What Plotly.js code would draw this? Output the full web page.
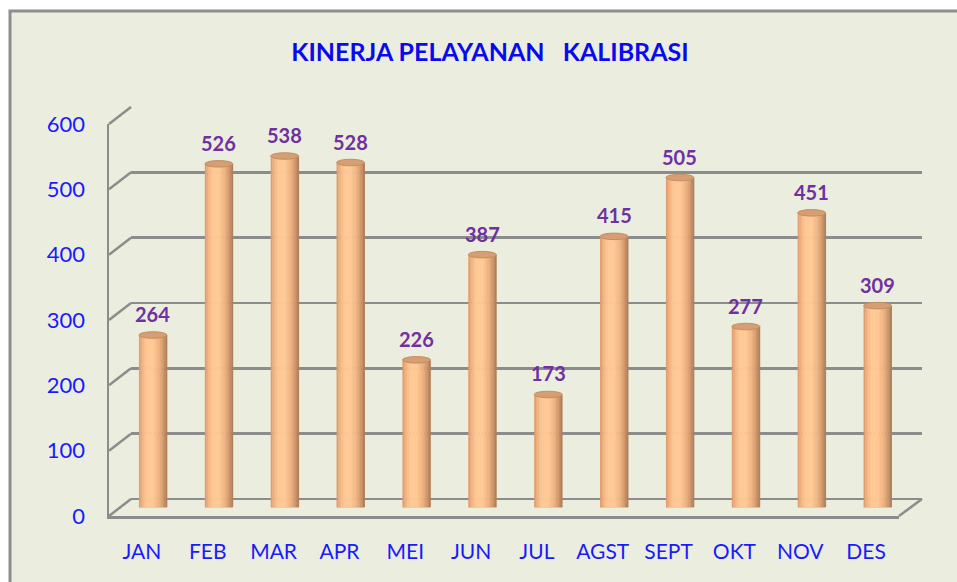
<!DOCTYPE html>
<html>
<head>
<meta charset="utf-8">
<script src="https://cdn.plot.ly/plotly-3.0.1.min.js"></script>
<style>html,body{margin:0;padding:0;background:#fff;}#chart{width:957px;height:582px;}</style>
</head>
<body>
<div id="chart"></div>
<script>
// ---- data ----
const months = ["JAN","FEB","MAR","APR","MEI","JUN","JUL","AGST","SEPT","OKT","NOV","DES"];
const values = [264, 526, 538, 528, 226, 387, 173, 415, 505, 277, 451, 309];
const yTicks = [0, 100, 200, 300, 400, 500, 600];
const chartTitle = "KINERJA PELAYANAN&nbsp;&nbsp; KALIBRASI";

// ---- geometry helpers (pixels -> paper) ----
const W = 957, H = 582;
const px = x => x / W;
const py = y => 1 - y / H;
const FONT = "Lato, 'Open Sans', sans-serif";
const GRID = "#8c8c8c";
const BG = "#ebeedf";

// front plane: 0 at y=516, 600 at y=124 ; x 109..899
// back plane : 0 at y=499, 600 at y=107 ; x 131..922
const frontY = v => 516 - v * 392 / 600;
const backY = v => 499 - v * 392 / 600;

// cylinder shading stripes
const BW = 0.425, N = 18;
const stops = [
  [0.00, [214, 150, 104]],
  [0.10, [240, 176, 126]],
  [0.28, [255, 200, 148]],
  [0.50, [255, 201, 150]],
  [0.72, [238, 178, 128]],
  [0.88, [206, 150, 106]],
  [1.00, [168, 122, 86]]
];
function colAt(t) {
  for (let i = 1; i < stops.length; i++) {
    if (t <= stops[i][0]) {
      const a = stops[i - 1], b = stops[i];
      const f = (t - a[0]) / (b[0] - a[0]);
      const c = a[1].map((v, k) => Math.round(v + (b[1][k] - v) * f));
      return `rgb(${c[0]},${c[1]},${c[2]})`;
    }
  }
  return "rgb(168,122,86)";
}

const traces = [];
for (let k = 0; k < N; k++) {
  traces.push({
    type: "bar", x: months, y: values, xaxis: "x2", yaxis: "y2",
    width: BW / N + 0.006, offset: -BW / 2 + k * BW / N,
    marker: { color: colAt((k + 0.5) / N), line: { width: 0 } },
    hoverinfo: "skip", showlegend: false
  });
}
// invisible trace to activate the front axes
traces.push({
  type: "scatter", mode: "markers", x: months, y: values, xaxis: "x3", yaxis: "y3",
  marker: { opacity: 0 }, showlegend: false, hoverinfo: "skip"
});
// invisible trace to activate the back axes
traces.push({
  type: "scatter", mode: "markers", x: months, y: values, xaxis: "x", yaxis: "y",
  marker: { opacity: 0 }, showlegend: false, hoverinfo: "skip"
});

// value labels
const annotations = values.map((v, i) => ({
  xref: "x2", yref: "y2", x: months[i], y: v, yshift: 21, showarrow: false,
  text: String(v), xanchor: "center", yanchor: "middle",
  font: { family: FONT, size: 20, color: "#7030a0", weight: "bold" }
}));

const shapes = [];
// frame
shapes.push({ type: "rect", xref: "paper", yref: "paper", x0: px(10), x1: 1.05, y0: py(11), y1: -0.05,
  fillcolor: BG, line: { color: "#8e8e8e", width: 3 }, layer: "below" });
// left wall diagonals
yTicks.forEach(v => {
  shapes.push({ type: "line", xref: "paper", yref: "paper", x0: px(109), y0: py(frontY(v)), x1: px(131), y1: py(backY(v)),
    line: { color: GRID, width: 2.5 }, layer: "below" });
});
// right floor edge
shapes.push({ type: "line", xref: "paper", yref: "paper", x0: px(899), y0: py(frontY(0)), x1: px(922), y1: py(backY(0)),
  line: { color: GRID, width: 2.5 }, layer: "below" });
// cylinder caps
values.forEach((v, i) => {
  shapes.push({ type: "circle", xref: "x2", yref: "y2", x0: i - BW / 2, x1: i + BW / 2, y0: -5, y1: 5,
    fillcolor: "rgb(236,172,122)", line: { width: 0 }, layer: "below" });
  shapes.push({ type: "circle", xref: "x2", yref: "y2", x0: i - BW / 2, x1: i + BW / 2, y0: v - 5, y1: v + 5,
    fillcolor: "rgb(214,158,114)", line: { color: "rgb(196,142,100)", width: 1 }, layer: "above" });
});

const layout = {
  width: W, height: H,
  margin: { l: 0, r: 0, t: 0, b: 0 },
  paper_bgcolor: "#ffffff", plot_bgcolor: "rgba(0,0,0,0)",
  barmode: "overlay",
  showlegend: false,
  title: { text: chartTitle, x: px(490), xanchor: "center", y: py(52), yanchor: "middle",
    font: { family: FONT, size: 25, color: "#0a0aee", weight: "bold" } },
  // back wall
  xaxis: { domain: [px(131), px(922)], type: "category", range: [-0.5, 11.5],
    showgrid: false, showline: false, zeroline: false, showticklabels: false, ticks: "" },
  yaxis: { domain: [py(499), py(107)], range: [0, 600], tickvals: yTicks,
    showgrid: true, gridcolor: GRID, gridwidth: 2.5, zeroline: true, zerolinecolor: GRID, zerolinewidth: 2.5,
    showline: false, showticklabels: false, ticks: "" },
  // middle (bars)
  xaxis2: { domain: [px(120), px(910.5)], type: "category", range: [-0.5, 11.5], anchor: "y2",
    showgrid: false, showline: false, zeroline: false, showticklabels: false, ticks: "" },
  yaxis2: { domain: [py(507.5), py(115.5)], range: [0, 600], anchor: "x2",
    showgrid: false, showline: false, zeroline: false, showticklabels: false, ticks: "" },
  // front (labels)
  xaxis3: { domain: [px(109), px(899)], type: "category", range: [-0.5, 11.5], anchor: "y3",
    showgrid: false, zeroline: false, showline: true, linecolor: GRID, linewidth: 2.5,
    ticks: "", ticklabelstandoff: 15,
    tickfont: { family: FONT, size: 21, color: "#1a1aff" } },
  yaxis3: { domain: [py(516), py(124)], range: [0, 600], anchor: "x3", tickvals: yTicks,
    showgrid: false, zeroline: false, showline: true, linecolor: GRID, linewidth: 2.5,
    ticks: "", ticklabelstandoff: 17,
    tickfont: { family: FONT, size: 22, color: "#1a1aff" } },
  annotations: annotations,
  shapes: shapes
};

Plotly.newPlot("chart", traces, layout, { displayModeBar: false, staticPlot: true });
</script>
</body>
</html>
